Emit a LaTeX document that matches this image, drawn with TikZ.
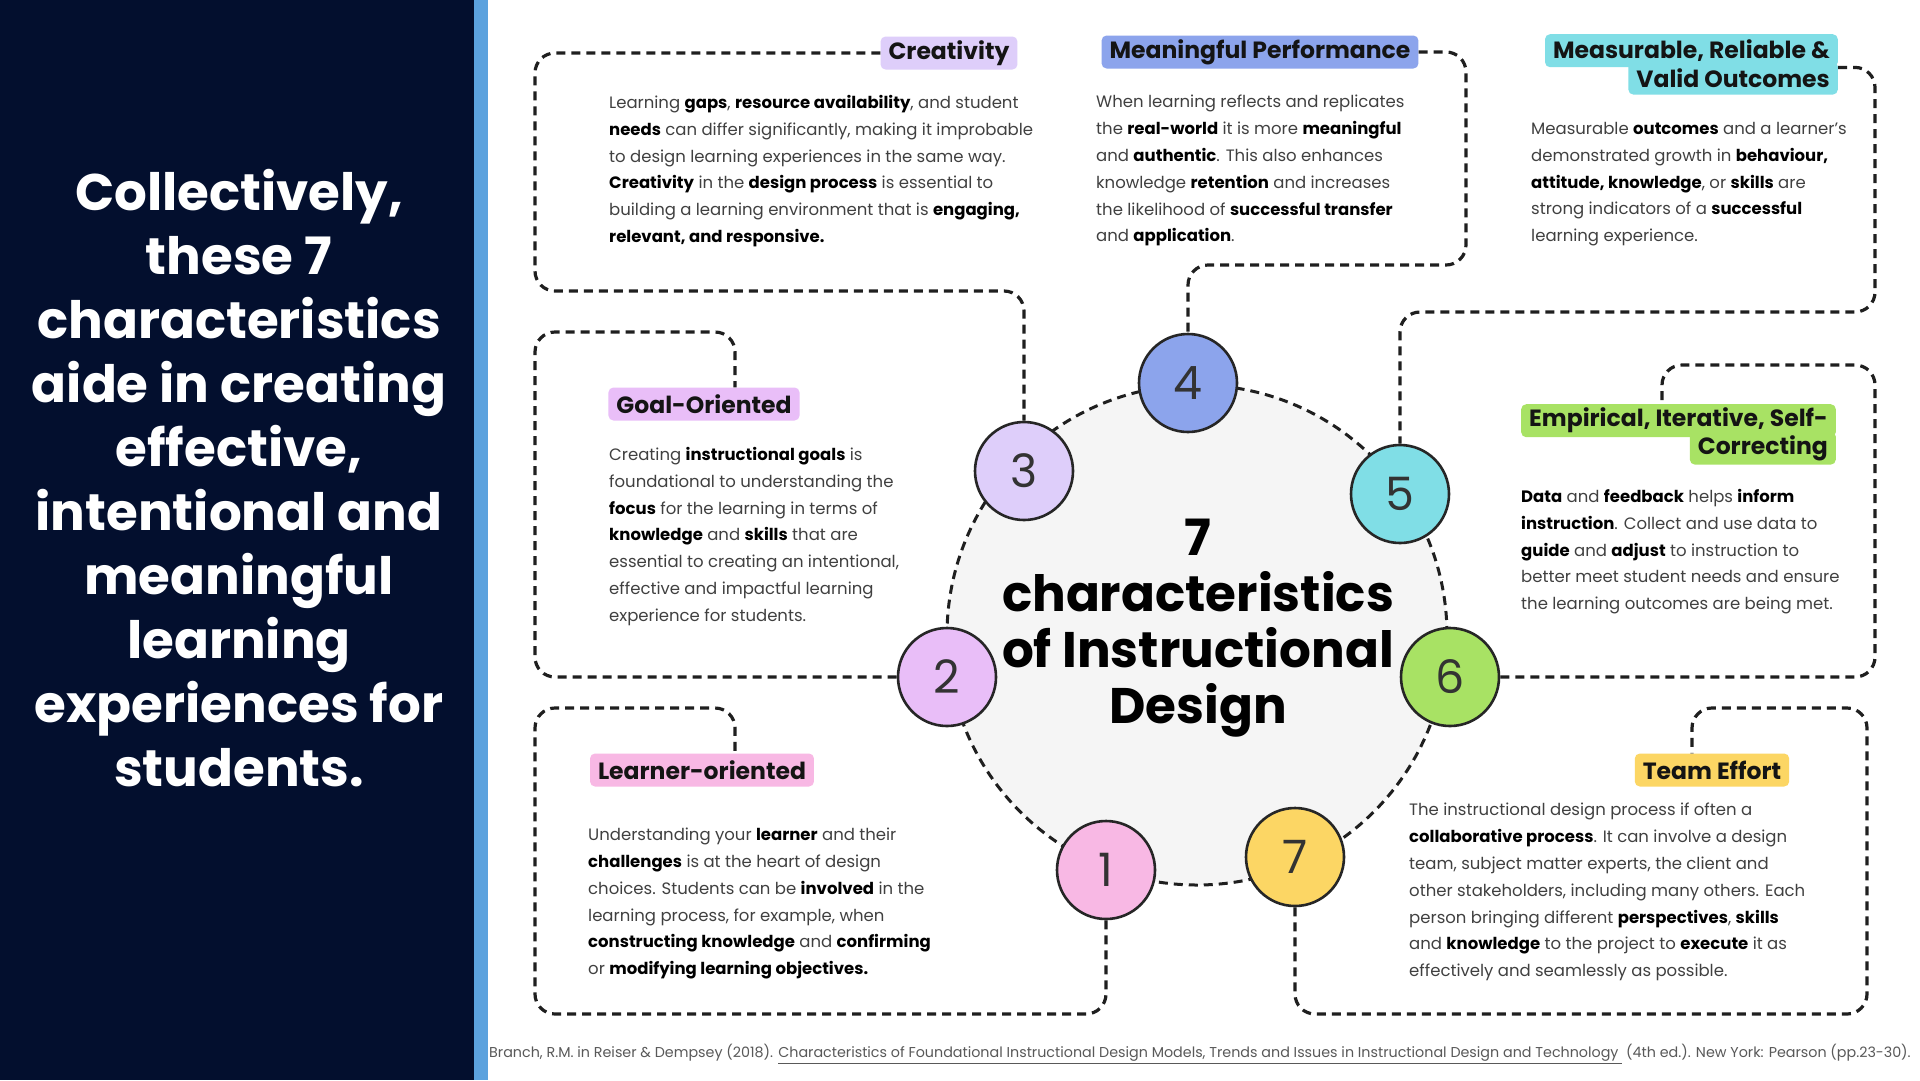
\documentclass[tikz,border=0pt]{standalone}
\usepackage{fontspec}
\setmainfont{Poppins}
\usepackage{tikz}
\usetikzlibrary{positioning}

\definecolor{navy}{RGB}{3,15,46}
\definecolor{stripe}{RGB}{92,162,222}
\definecolor{hubgray}{RGB}{245,245,245}
\definecolor{onecol}{RGB}{248,184,228}
\definecolor{twocol}{RGB}{233,190,248}
\definecolor{threecol}{RGB}{222,206,250}
\definecolor{fourcol}{RGB}{140,164,236}
\definecolor{fivecol}{RGB}{128,222,230}
\definecolor{sixcol}{RGB}{168,226,100}
\definecolor{sevencol}{RGB}{252,214,100}

\newcommand{\kw}[1]{\textbf{\color{black}#1}}

\begin{document}
\begin{tikzpicture}[x=1pt, y=-1pt,
  dashline/.style={draw=black!88, line width=3.2pt, dash pattern=on 9pt off 6pt,
                   rounded corners=20pt},
  ring/.style={circle, draw=black!88, line width=3pt, dash pattern=on 9pt off 6pt,
               fill=hubgray, minimum size=500pt, inner sep=0pt},
  num/.style={circle, draw=black!85, line width=2.6pt, minimum size=98pt,
              inner sep=0pt, text=black!80, font=\fontsize{46}{46}\selectfont},
  tag/.style={rectangle, rounded corners=5pt, minimum height=33pt, inner xsep=8pt,
              inner ysep=0pt, text=black!92, font=\bfseries\fontsize{23.5}{26}\selectfont},
  body/.style={anchor=north west, align=left, inner sep=0pt, text=black!75,
               font=\fontsize{16.5}{26.8}\selectfont},
]
\useasboundingbox (0,0) rectangle (1920,1080);
\fill[white] (0,0) rectangle (1920,1080);
\fill[navy] (0,0) rectangle (474,1080);
\fill[stripe] (474,0) rectangle (488,1080);

\node[text=white, align=center, font=\bfseries\fontsize{51.5}{64}\selectfont] (lead) at (239,478)
  {Collectively,\\these 7\\characteristics\\aide in creating\\effective,\\intentional and\\meaningful\\learning\\experiences for\\students.};

\node[ring] (hub) at (1197,635) {};
\node[align=center, font=\bfseries\fontsize{50}{56}\selectfont] (title) at (1198,628)
  {7\\characteristics\\of Instructional\\Design};

\node[num, fill=onecol]   (c1) at (1106,870) {1};
\node[num, fill=twocol]   (c2) at (947,677)  {2};
\node[num, fill=threecol] (c3) at (1024,471) {3};
\node[num, fill=fourcol]  (c4) at (1188,383) {4};
\node[num, fill=fivecol]  (c5) at (1400,494) {5};
\node[num, fill=sixcol]   (c6) at (1450,677) {6};
\node[num, fill=sevencol] (c7) at (1295,857) {7};

\node[tag, fill=threecol] (creat) at (949,53) {Creativity};
\node[tag, fill=fourcol]  (perf)  at (1260,52) {Meaningful Performance};
\node[tag, fill=fivecol, anchor=north east] (meas1) at (1838,34) {Measurable, Reliable \&};
\node[tag, fill=fivecol, below left=-6pt and 0pt of meas1.south east] (meas2) {Valid Outcomes};
\node[tag, fill=twocol]   (goal)  at (704,404) {Goal-Oriented};
\node[tag, fill=sixcol, anchor=north east] (emp1) at (1836,404) {Empirical, Iterative, Self-};
\node[tag, fill=sixcol, below left=-6pt and 0pt of emp1.south east] (emp2) {Correcting};
\node[tag, fill=onecol]   (learner) at (702,770) {Learner-oriented};
\node[tag, fill=sevencol] (team)  at (1712,770) {Team Effort};

\node[body] (txtcreat) at (609,95)
  {Learning \kw{gaps}, \kw{resource availability}, and student\\
   \kw{needs} can differ significantly, making it improbable\\
   to design learning experiences in the same way.\\
   \kw{Creativity} in the \kw{design process} is essential to\\
   building a learning environment that is \kw{engaging,}\\
   \kw{relevant, and responsive.}};
\node[body] (txtperf) at (1096,95)
  {When learning reflects and replicates\\
   the \kw{real-world} it is more \kw{meaningful}\\
   and \kw{authentic}. This also enhances\\
   knowledge \kw{retention} and increases\\
   the likelihood of \kw{successful transfer}\\
   and \kw{application}.};
\node[body] (txtmeas) at (1531,122)
  {Measurable \kw{outcomes} and a learner's\\
   demonstrated growth in \kw{behaviour,}\\
   \kw{attitude, knowledge}, or \kw{skills} are\\
   strong indicators of a \kw{successful}\\
   learning experience.};
\node[body] (txtgoal) at (609,447)
  {Creating \kw{instructional goals} is\\
   foundational to understanding the\\
   \kw{focus} for the learning in terms of\\
   \kw{knowledge} and \kw{skills} that are\\
   essential to creating an intentional,\\
   effective and impactful learning\\
   experience for students.};
\node[body] (txtemp) at (1521,489)
  {\kw{Data} and \kw{feedback} helps \kw{inform}\\
   \kw{instruction}. Collect and use data to\\
   \kw{guide} and \kw{adjust} to instruction to\\
   better meet student needs and ensure\\
   the learning outcomes are being met.};
\node[body] (txtlearner) at (588,828)
  {Understanding your \kw{learner} and their\\
   \kw{challenges} is at the heart of design\\
   choices. Students can be \kw{involved} in the\\
   learning process, for example, when\\
   \kw{constructing knowledge} and \kw{confirming}\\
   or \kw{modifying learning objectives.}};
\node[body] (txtteam) at (1409,803)
  {The instructional design process if often a\\
   \kw{collaborative process}. It can involve a design\\
   team, subject matter experts, the client and\\
   other stakeholders, including many others. Each\\
   person bringing different \kw{perspectives}, \kw{skills}\\
   and \kw{knowledge} to the project to \kw{execute} it as\\
   effectively and seamlessly as possible.};

\node[anchor=west, inner sep=0pt, text=black!65, font=\fontsize{14.3}{16}\selectfont] (cite) at (489,1054)
  {Branch, R.M. in Reiser \& Dempsey (2018). \underline{Characteristics of Foundational Instructional Design Models, Trends and Issues in Instructional Design and Technology\ } (4th ed.). New York: Pearson (pp.23-30).};

\draw[dashline] (creat.west) -- (535,0 |- creat.west) -- (535,291) -- (1024,291) -- (c3.north);
\draw[dashline] (perf.east) -- (1466,0 |- perf.east) -- (1466,265) -- (1188,265) -- (c4.north);
\draw[dashline] (meas1.south east) -- (1875,0 |- meas1.south east) -- (1875,312) -- (1400,312) -- (c5.north);
\draw[dashline] (c2.west) -- (535,0 |- c2.west) -- (535,332) -- (735,332) -- (735,0 |- goal.north);
\draw[dashline] (c6.east) -- (1875,0 |- c6.east) -- (1875,365) -- (1662,365) -- (1662,0 |- emp1.north);
\draw[dashline] (c1.south) -- (1106,1014) -- (535,1014) -- (535,708) -- (735,708) -- (735,0 |- learner.north);
\draw[dashline] (c7.south) -- (1295,1014) -- (1867,1014) -- (1867,708) -- (1692,708) -- (1692,0 |- team.north);
\end{tikzpicture}
\end{document}
